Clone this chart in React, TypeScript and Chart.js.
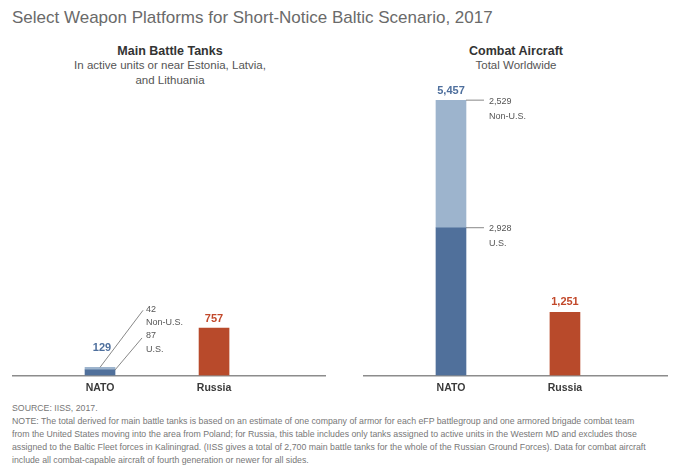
import React, { useEffect, useRef } from "react";
import { Chart, registerables } from "chart.js";

Chart.register(...registerables);

const categories = ["NATO", "Russia"];
const tanksUS = [87, null];
const tanksNonUS = [42, null];
const tanksRussia = [null, 757];
const tankTotals = ["129", "757"];
const aircraftUS = [2928, null];
const aircraftNonUS = [2529, null];
const aircraftRussia = [null, 1251];
const aircraftTotals = ["5,457", "1,251"];
const segmentNames = ["U.S.", "Non-U.S."];

const DARK_BLUE = "#50709b";
const LIGHT_BLUE = "#9db4cd";
const RED = "#b84a2b";
const BLUE_TEXT = "#4e6f9d";
const RED_TEXT = "#c2482a";
const FONT = "'Liberation Sans', Arial, sans-serif";
const CANVAS_H = 320;

const fmt = (n: number) => n.toLocaleString("en-US");

function points(arr: (number | null)[]) {
  return arr
    .map((v, i) => ({ x: i, y: v }))
    .filter((p) => p.y !== null);
}

function baseOptions(xMin: number, xMax: number, yMax: number, plugin: any) {
  return {
    type: "bar" as const,
    options: {
      animation: false as const,
      responsive: false,
      maintainAspectRatio: false,
      layout: { padding: { top: 20, left: 0, right: 0, bottom: 0 } },
      plugins: { legend: { display: false }, tooltip: { enabled: false } },
      scales: {
        x: {
          type: "linear" as const,
          min: xMin,
          max: xMax,
          offset: false,
          stacked: true,
          grid: { display: false, drawTicks: false, offset: false },
          border: { display: true, color: "#8c8c8c", width: 1.5 },
          afterBuildTicks: (axis: any) => {
            axis.ticks = categories.map((_, i) => ({ value: i }));
          },
          ticks: {
            padding: 6,
            color: "#3a3a3a",
            font: { family: FONT, size: 10.5, weight: "bold" as const, lineHeight: 1.2 },
            callback: (v: any) => categories[v] ?? "",
          },
        },
        y: {
          display: false,
          stacked: true,
          min: 0,
          max: yMax,
        },
      },
    },
    plugins: [plugin],
  };
}

const tanksPlugin = {
  id: "tanksLabels",
  afterDatasetsDraw(chart: any) {
    const ctx = chart.ctx;
    const us = chart.getDatasetMeta(0).data[0];
    const non = chart.getDatasetMeta(1).data[0];
    const ru = chart.getDatasetMeta(2).data[0];
    ctx.save();
    ctx.textBaseline = "middle";
    ctx.font = `bold 11px ${FONT}`;
    ctx.textAlign = "center";
    ctx.fillStyle = BLUE_TEXT;
    ctx.fillText(tankTotals[0], non.x + 2, non.y - 19);
    ctx.fillStyle = RED_TEXT;
    ctx.fillText(tankTotals[1], ru.x, ru.y - 9);
    ctx.strokeStyle = "#7a7a7a";
    ctx.lineWidth = 0.9;
    ctx.beginPath();
    ctx.moveTo(non.x, non.y);
    ctx.lineTo(non.x + 43, non.y - 57);
    ctx.moveTo(us.x + us.width / 2, us.y);
    ctx.lineTo(us.x + 42, us.y - 32);
    ctx.stroke();
    ctx.font = `9px ${FONT}`;
    ctx.textAlign = "left";
    ctx.fillStyle = "#555";
    const lx = non.x + 46;
    ctx.fillText(String(tanksNonUS[0]), lx, non.y - 58);
    ctx.fillText(segmentNames[1], lx, non.y - 45);
    ctx.fillText(String(tanksUS[0]), lx, us.y - 34);
    ctx.fillText(segmentNames[0], lx, us.y - 20);
    ctx.restore();
  },
};

const aircraftPlugin = {
  id: "aircraftLabels",
  afterDatasetsDraw(chart: any) {
    const ctx = chart.ctx;
    const us = chart.getDatasetMeta(0).data[0];
    const non = chart.getDatasetMeta(1).data[0];
    const ru = chart.getDatasetMeta(2).data[0];
    ctx.save();
    ctx.textBaseline = "middle";
    ctx.font = `bold 11px ${FONT}`;
    ctx.textAlign = "center";
    ctx.fillStyle = BLUE_TEXT;
    ctx.fillText(aircraftTotals[0], non.x, non.y - 9);
    ctx.fillStyle = RED_TEXT;
    ctx.fillText(aircraftTotals[1], ru.x, ru.y - 10);
    const right = non.x + non.width / 2;
    ctx.strokeStyle = "#7a7a7a";
    ctx.lineWidth = 0.9;
    ctx.beginPath();
    ctx.moveTo(right, non.y);
    ctx.lineTo(right + 18, non.y);
    ctx.moveTo(right, us.y);
    ctx.lineTo(right + 18, us.y);
    ctx.stroke();
    ctx.font = `9px ${FONT}`;
    ctx.textAlign = "left";
    ctx.fillStyle = "#555";
    const lx = right + 23;
    ctx.fillText(fmt(aircraftNonUS[0] as number), lx, non.y + 1);
    ctx.fillText(segmentNames[1], lx, non.y + 16);
    ctx.fillText(fmt(aircraftUS[0] as number), lx, us.y + 1);
    ctx.fillText(segmentNames[0], lx, us.y + 16);
    ctx.restore();
  },
};

function BarPanel(props: {
  us: (number | null)[];
  non: (number | null)[];
  ru: (number | null)[];
  xMin: number;
  xMax: number;
  yMax: number;
  plugin: any;
  left: number;
  width: number;
}) {
  const ref = useRef<HTMLCanvasElement>(null);
  useEffect(() => {
    if (!ref.current) return;
    const cfg: any = baseOptions(props.xMin, props.xMax, props.yMax, props.plugin);
    cfg.data = {
      datasets: [
        { label: segmentNames[0], data: points(props.us), backgroundColor: DARK_BLUE, barThickness: 30 },
        { label: segmentNames[1], data: points(props.non), backgroundColor: LIGHT_BLUE, barThickness: 30 },
        { label: categories[1], data: points(props.ru), backgroundColor: RED, barThickness: 30 },
      ],
    };
    const chart = new Chart(ref.current, cfg);
    return () => chart.destroy();
  }, []);
  return (
    <canvas
      ref={ref}
      width={props.width}
      height={CANVAS_H}
      style={{ position: "absolute", left: props.left, top: 80, width: props.width, height: CANVAS_H }}
    />
  );
}

const footerLines = [
  "NOTE: The total derived for main battle tanks is based on an estimate of one company of armor for each eFP battlegroup and one armored brigade combat team",
  "from the United States moving into the area from Poland; for Russia, this table includes only tanks assigned to active units in the Western MD and excludes those",
  "assigned to the Baltic Fleet forces in Kaliningrad. (IISS gives a total of 2,700 main battle tanks for the whole of the Russian Ground Forces). Data for combat aircraft",
  "include all combat-capable aircraft of fourth generation or newer for all sides.",
];

export default function App() {
  const headStyle: React.CSSProperties = {
    position: "absolute",
    width: 300,
    textAlign: "center",
    fontFamily: FONT,
    color: "#333",
  };
  return (
    <div
      style={{
        position: "absolute",
        left: 0,
        top: 0,
        width: 681,
        height: 465,
        background: "#fff",
        fontFamily: FONT,
        overflow: "hidden",
      }}
    >
      <div style={{ position: "absolute", left: 12, top: 7, fontSize: 17, color: "#6a6a6a", lineHeight: "22px", whiteSpace: "nowrap" }}>
        Select Weapon Platforms for Short-Notice Baltic Scenario, 2017
      </div>
      <div style={{ ...headStyle, left: 170 - 150, top: 44 }}>
        <div style={{ fontSize: 12.5, fontWeight: "bold", lineHeight: "14px" }}>Main Battle Tanks</div>
        <div style={{ fontSize: 11.5, lineHeight: "15px", color: "#555" }}>
          In active units or near Estonia, Latvia,
          <br />
          and Lithuania
        </div>
      </div>
      <div style={{ ...headStyle, left: 516 - 150, top: 44 }}>
        <div style={{ fontSize: 12.5, fontWeight: "bold", lineHeight: "14px" }}>Combat Aircraft</div>
        <div style={{ fontSize: 11.5, lineHeight: "15px", color: "#555" }}>Total Worldwide</div>
      </div>
      <BarPanel us={tanksUS} non={tanksNonUS} ru={tanksRussia} xMin={-0.772} xMax={1.982} yMax={4400} plugin={tanksPlugin} left={12} width={314} />
      <BarPanel us={aircraftUS} non={aircraftNonUS} ru={aircraftRussia} xMin={-0.772} xMax={1.904} yMax={5460} plugin={aircraftPlugin} left={363} width={305} />
      <div style={{ position: "absolute", left: 12, top: 401.5, fontSize: 8.75, lineHeight: "13px", color: "#777", whiteSpace: "nowrap" }}>
        <div>SOURCE: IISS, 2017.</div>
        {footerLines.map((l, i) => (
          <div key={i}>{l}</div>
        ))}
      </div>
    </div>
  );
}
